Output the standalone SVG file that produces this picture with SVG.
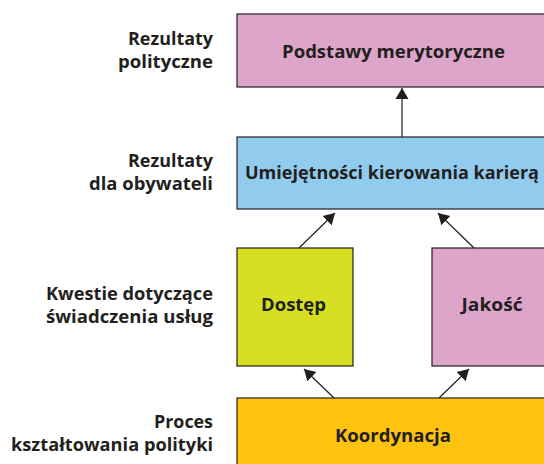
<svg xmlns="http://www.w3.org/2000/svg" width="544" height="464" viewBox="0 0 544 464">
  <defs>
    <marker id="ah" markerUnits="userSpaceOnUse" markerWidth="14" markerHeight="14" viewBox="0 0 14 14" refX="11" refY="7" orient="auto">
      <path d="M0,0.5 L11,7 L0,13.5 Z" fill="#231F20"/>
    </marker>
    <style>
      .box { stroke: #231F20; stroke-width: 1.2; }
      .t { font-family: "Open Sans", "Noto Sans", sans-serif; font-weight: 700; fill: #231F20; }
      .lbl { font-size: 17px; text-anchor: end; }
      .nt { font-size: 18.5px; text-anchor: middle; }
      .conn { stroke: #231F20; stroke-width: 1.2; fill: none; marker-end: url(#ah); }
    </style>
  </defs>
  <rect width="544" height="464" fill="#FFFFFF"/>

  <g id="labels">
    <text class="t lbl" x="213" y="45" textLength="85" lengthAdjust="spacingAndGlyphs">Rezultaty</text>
    <text class="t lbl" x="213" y="68" textLength="95" lengthAdjust="spacingAndGlyphs">polityczne</text>
    <text class="t lbl" x="213" y="167" textLength="85" lengthAdjust="spacingAndGlyphs">Rezultaty</text>
    <text class="t lbl" x="213" y="190" textLength="124" lengthAdjust="spacingAndGlyphs">dla obywateli</text>
    <text class="t lbl" x="213" y="300" textLength="167" lengthAdjust="spacingAndGlyphs">Kwestie dotyczące</text>
    <text class="t lbl" x="213" y="323" textLength="167" lengthAdjust="spacingAndGlyphs">świadczenia usług</text>
    <text class="t lbl" x="213" y="428" textLength="59" lengthAdjust="spacingAndGlyphs">Proces</text>
    <text class="t lbl" x="213" y="451" textLength="202" lengthAdjust="spacingAndGlyphs">kształtowania polityki</text>
  </g>

  <g id="podstawy">
    <rect class="box" x="237" y="14" width="330" height="73" fill="#DDA5CA"/>
    <text class="t nt" x="393.5" y="58" textLength="223" lengthAdjust="spacingAndGlyphs">Podstawy merytoryczne</text>
  </g>
  <g id="umiejetnosci">
    <rect class="box" x="237" y="137" width="330" height="72" fill="#91CBEE"/>
    <text class="t nt" x="392" y="179" style="font-size:17.6px" textLength="294" lengthAdjust="spacingAndGlyphs">Umiejętności kierowania karierą</text>
  </g>
  <g id="dostep">
    <rect class="box" x="237" y="248" width="116" height="118" fill="#D7DF23"/>
    <text class="t nt" x="293.5" y="311" textLength="65" lengthAdjust="spacingAndGlyphs">Dostęp</text>
  </g>
  <g id="jakosc">
    <rect class="box" x="432" y="248" width="200" height="118" fill="#DDA5CA"/>
    <text class="t nt" x="492" y="311" textLength="61" lengthAdjust="spacingAndGlyphs">Jakość</text>
  </g>
  <g id="koordynacja">
    <rect class="box" x="237" y="398" width="330" height="80" fill="#FEC311"/>
    <text class="t nt" x="393" y="442" textLength="116" lengthAdjust="spacingAndGlyphs">Koordynacja</text>
  </g>

  <g id="connectors">
    <line class="conn" x1="402" y1="137" x2="402" y2="88"/>
    <line class="conn" x1="299" y1="248" x2="335" y2="213"/>
    <line class="conn" x1="474" y1="248" x2="438" y2="213"/>
    <line class="conn" x1="334" y1="398" x2="304" y2="369"/>
    <line class="conn" x1="439" y1="398" x2="469" y2="369"/>
  </g>
</svg>
